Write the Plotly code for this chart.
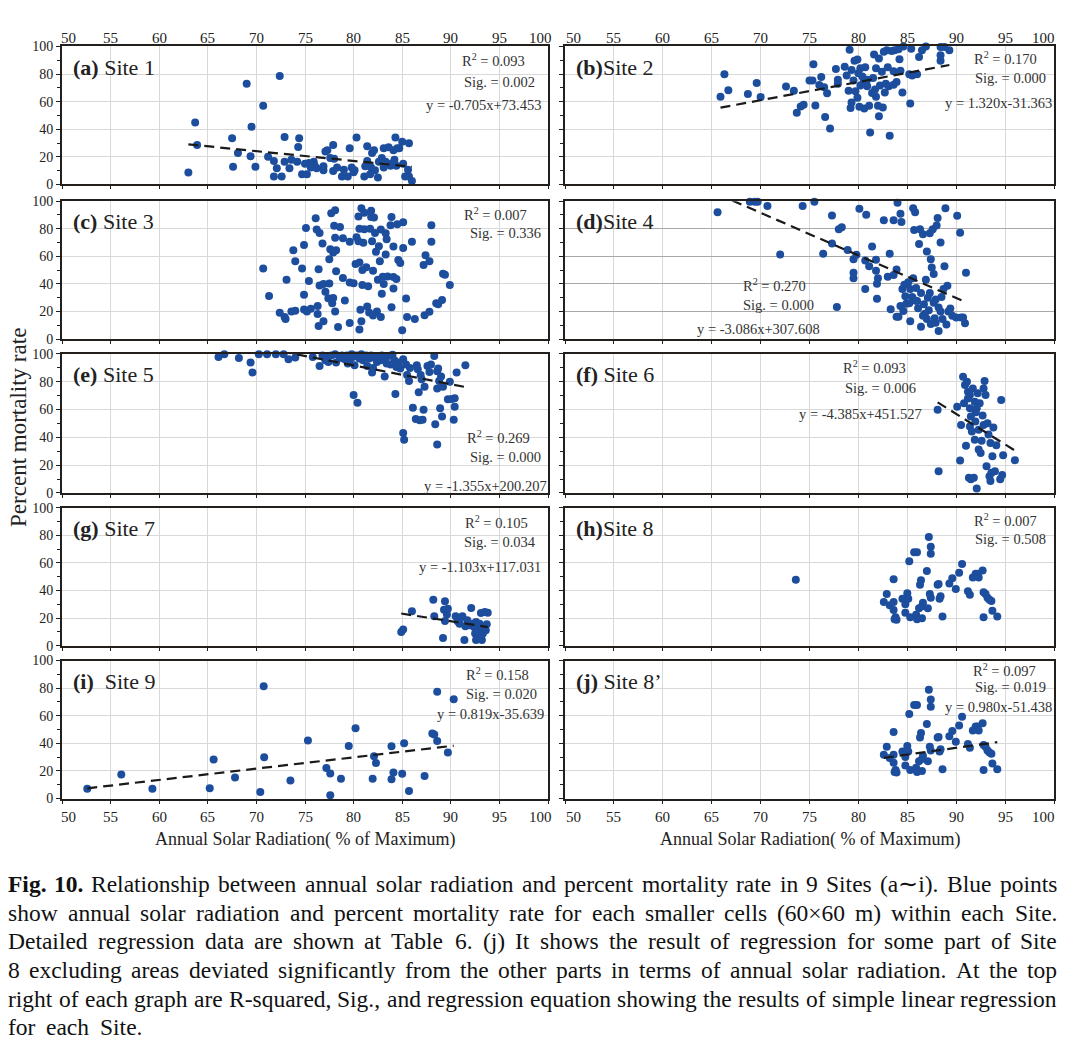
import plotly.graph_objects as go
import numpy as np

W, H = 1083, 1053

# ---------------- data ----------------
site1_x = [63.0, 63.7, 63.9, 67.5, 67.6, 68.1, 69.0, 69.4, 69.5, 69.9, 70.7, 71.2, 71.8, 71.8, 72.1, 72.4, 72.6, 72.9, 72.9,
           73.4, 73.6, 74.2, 74.3, 74.4, 74.7, 75.0, 75.2, 75.4, 75.6, 75.9, 76.0, 76.2, 76.9, 77.1, 76.9, 77.3, 77.6, 77.9,
           77.9, 78.0, 78.3, 78.8, 79.0, 79.4, 79.6, 79.8, 80.0, 80.1, 80.3, 81.1, 81.2, 81.4, 81.4, 81.7, 81.8, 81.9, 82.1,
           82.2, 82.5, 82.6, 82.9, 83.1, 83.1, 83.3, 83.6, 83.8, 83.9, 84.1, 84.2, 84.3, 84.4, 84.5, 84.7, 85.0, 85.1, 85.3,
           85.6, 85.7, 85.7, 86.0]
site1_y = [8.6, 44.9, 28.6, 33.4, 12.9, 22.7, 73.0, 20.5, 41.8, 12.9, 57.0, 20.0, 17.0, 5.7, 11.7, 78.5, 5.7, 16.5, 34.4,
           11.7, 17.9, 16.5, 27.2, 33.4, 7.4, 15.0, 7.4, 15.5, 12.2, 16.5, 13.6, 11.7, 10.3, 23.9, 13.1, 24.8, 19.1, 9.8,
           28.6, 18.6, 12.2, 5.7, 10.7, 5.7, 26.3, 12.2, 8.8, 10.3, 34.1, 5.7, 13.1, 17.0, 27.7, 7.4, 12.2, 22.7, 24.8,
           10.3, 5.0, 16.5, 19.1, 26.3, 12.2, 16.5, 27.0, 13.6, 15.0, 24.8, 17.9, 34.1, 13.6, 26.3, 26.3, 31.0, 15.0, 5.7,
           10.7, 29.8, 5.7, 2.4]

site2_x = [65.9, 66.3, 66.7, 68.7, 69.6, 70.0, 72.6, 73.4, 73.7, 74.1, 74.4, 75.0, 75.3, 75.4, 75.6, 76.0, 76.2, 76.5, 76.6,
           76.8, 77.1, 77.7, 77.9, 77.9, 78.6, 78.8, 79.0, 79.1, 79.2, 79.3, 79.3, 79.5, 79.6, 79.7, 79.9, 79.9, 80.0, 80.1,
           80.2, 80.2, 80.4, 80.5, 80.6, 80.7, 80.9, 80.9, 81.1, 81.2, 81.4, 81.5, 81.6, 81.7, 81.8, 81.8, 82.0, 82.1, 82.1,
           82.2, 82.4, 82.5, 82.6, 82.7, 82.8, 82.9, 83.0, 83.1, 83.2, 83.4, 83.6, 83.6, 83.7, 83.9, 84.1, 84.2, 84.3, 84.5,
           84.6, 85.2, 85.3, 85.4, 85.5, 86.0, 86.2, 86.5, 86.9, 88.4, 88.4, 88.4, 88.8, 89.3]
site2_y = [63.5, 79.9, 68.3, 65.5, 73.5, 63.4, 71.0, 67.8, 52.0, 56.5, 57.7, 75.4, 75.4, 87.0, 57.2, 72.0, 77.8, 70.4, 48.9,
           66.0, 40.6, 83.7, 75.9, 73.0, 85.3, 79.0, 67.8, 97.6, 55.3, 83.0, 59.3, 75.4, 89.6, 67.6, 90.5, 62.9, 80.6, 56.3,
           71.6, 84.2, 78.3, 73.5, 55.0, 84.9, 75.9, 71.2, 57.0, 37.6, 66.2, 77.1, 94.1, 68.8, 84.2, 63.6, 57.0, 49.4, 91.3,
           71.6, 81.6, 55.8, 96.1, 66.7, 73.0, 97.2, 84.9, 71.2, 35.2, 96.7, 72.3, 82.0, 97.2, 74.2, 97.9, 90.8, 82.3, 66.7,
           100.0, 79.9, 58.6, 98.3, 79.0, 79.9, 92.4, 97.2, 100.0, 89.6, 99.5, 93.6, 99.5, 97.2]

site3_x = [70.7, 71.3, 72.4, 72.9, 73.0, 73.1, 73.6, 73.8, 74.0, 74.0, 74.7, 74.9, 74.9, 74.9, 75.1, 75.2, 75.4, 75.6, 76.1,
           76.2, 76.3, 76.3, 76.4, 76.4, 76.5, 76.5, 76.8, 76.9, 76.9, 77.1, 77.4, 77.5, 77.5, 77.6, 77.7, 77.8, 77.9, 77.9,
           78.0, 78.1, 78.1, 78.1, 78.2, 78.2, 78.4, 78.6, 78.9, 78.9, 79.1, 79.6, 79.6, 79.6, 80.0, 80.2, 80.3, 80.5, 80.5,
           80.6, 80.6, 80.6, 80.7, 80.8, 80.8, 80.9, 80.9, 81.0, 81.1, 81.1, 81.3, 81.4, 81.5, 81.6, 81.7, 81.8, 81.8, 81.9,
           82.0, 82.0, 82.1, 82.2, 82.3, 82.4, 82.5, 82.6, 82.7, 82.8, 82.8, 82.9, 83.0, 83.1, 83.3, 83.3, 83.4, 83.5, 83.8,
           83.9, 83.9, 84.1, 84.1, 84.1, 84.4, 84.5, 84.6, 84.8, 85.0, 85.1, 85.1, 85.4, 85.5, 86.0, 86.3, 87.2, 87.3, 87.4,
           87.8, 87.8, 88.0, 88.0, 88.5, 88.7, 89.1, 89.2, 89.4, 89.9]
site3_y = [51.2, 31.3, 19.2, 16.1, 14.7, 43.1, 20.1, 64.5, 56.4, 20.6, 51.2, 68.2, 32.2, 21.6, 80.6, 20.1, 42.2, 22.0, 87.7,
           79.4, 24.0, 18.2, 9.5, 50.7, 38.9, 77.0, 69.4, 40.0, 13.0, 34.4, 29.6, 40.3, 58.0, 65.2, 91.2, 26.0, 29.8, 62.8,
           82.2, 93.4, 20.1, 73.5, 64.5, 49.3, 8.8, 81.3, 73.2, 44.3, 28.0, 70.6, 11.8, 41.0, 40.6, 54.5, 73.9, 70.9, 88.9,
           55.5, 7.1, 80.1, 21.3, 13.0, 94.8, 39.3, 50.2, 69.9, 79.6, 91.7, 52.1, 23.7, 38.4, 19.4, 80.1, 93.1, 88.6, 70.9,
           49.6, 17.2, 88.2, 77.0, 63.3, 20.1, 43.1, 67.3, 56.4, 16.1, 79.4, 32.9, 45.3, 40.0, 61.4, 76.8, 72.5, 45.5, 82.5,
           88.6, 23.2, 36.7, 45.1, 67.1, 43.6, 83.3, 57.3, 55.2, 6.4, 84.8, 66.1, 29.4, 16.1, 70.6, 14.7, 53.8, 17.3, 60.9,
           19.9, 56.4, 82.5, 70.6, 26.0, 25.4, 28.4, 47.4, 46.7, 39.3]

site4_x = [65.6, 68.9, 69.4, 69.7, 70.7, 72.0, 74.3, 75.5, 76.4, 77.3, 77.3, 77.8, 78.0, 78.3, 78.9, 79.5, 79.5, 79.5, 79.8,
           80.1, 80.7, 80.7, 80.8, 81.1, 81.4, 81.8, 81.8, 81.9, 81.9, 82.0, 82.6, 83.0, 83.2, 83.3, 83.6, 83.6, 83.9, 83.9,
           84.0, 84.1, 84.3, 84.3, 84.4, 84.5, 84.7, 84.8, 84.9, 85.1, 85.3, 85.3, 85.5, 85.6, 85.6, 85.7, 85.8, 85.9, 86.0,
           86.1, 86.2, 86.3, 86.4, 86.6, 86.6, 86.7, 86.9, 87.0, 87.0, 87.1, 87.2, 87.3, 87.3, 87.4, 87.4, 87.5, 87.6, 87.7,
           87.7, 87.8, 87.9, 88.0, 88.1, 88.2, 88.2, 88.4, 88.4, 88.6, 88.7, 88.8, 88.9, 89.0, 89.1, 89.2, 89.4, 89.6, 90.0,
           90.1, 90.4, 90.5, 90.7, 90.9, 91.0, 84.6, 85.8, 86.8, 87.9, 88.5, 86.4, 85.2]
site4_y = [91.9, 99.6, 99.6, 99.6, 96.6, 61.4, 96.6, 99.6, 61.9, 89.7, 69.4, 23.4, 79.6, 81.2, 64.7, 57.9, 48.2, 44.2, 61.2,
           94.5, 57.1, 36.4, 90.2, 52.9, 67.1, 57.6, 49.6, 40.1, 29.3, 44.2, 86.2, 45.3, 61.9, 21.7, 86.2, 46.5, 50.5, 16.3,
           98.9, 16.3, 24.1, 90.9, 85.0, 36.4, 39.4, 31.2, 25.7, 41.3, 13.0, 36.4, 30.5, 44.2, 94.9, 79.1, 91.9, 37.1, 27.6,
           22.4, 68.9, 79.6, 33.5, 17.0, 76.0, 25.3, 43.0, 14.6, 63.5, 30.0, 21.0, 76.7, 33.5, 57.9, 11.1, 51.9, 79.6, 47.2,
           26.4, 15.1, 28.8, 82.4, 87.8, 22.9, 5.9, 20.1, 70.1, 14.6, 36.4, 52.9, 94.9, 10.6, 38.7, 20.1, 22.2, 17.0, 15.8,
           89.5, 77.2, 15.8, 15.8, 11.6, 48.2, 20.5, 28.0, 18.5, 12.0, 30.5, 9.0, 26.0]

site5_x = [66.1, 66.7, 68.2, 69.4, 69.6, 70.25, 71.1, 72.0, 72.8, 73.3, 74.0, 75.8, 76.5, 76.8, 77.1, 77.2, 77.4, 77.7, 78.1,
           78.2, 78.6, 78.8, 79.1, 79.3, 79.4, 79.6, 79.8, 79.9, 80.0, 80.1, 80.3, 80.4, 80.6, 80.8, 80.96, 81.1, 81.3, 81.4,
           81.6, 81.8, 81.9, 82.0, 82.2, 82.4, 82.6, 82.8, 82.9, 83.1, 83.2, 83.4, 83.6, 83.8, 84.0, 84.2, 84.3, 84.4, 84.6,
           84.8, 85.1, 85.1, 85.2, 85.4, 85.5, 85.7, 85.8, 86.1, 86.4, 86.5, 86.6, 86.7, 86.8, 86.9, 87.0, 87.1, 87.2, 87.3,
           87.6, 87.8, 87.96, 88.3, 88.4, 88.6, 88.6, 88.6, 88.7, 88.8, 88.9, 89.0, 89.1, 89.2, 89.7, 89.9, 90.1, 90.3, 90.4,
           90.4, 90.6, 91.5]
site5_y = [97.9, 99.8, 97.1, 93.8, 86.7, 99.8, 99.8, 99.8, 99.8, 96.2, 97.4, 97.9, 91.4, 99.0, 95.5, 97.9, 94.3, 99.0, 99.8,
           93.8, 97.1, 99.0, 96.2, 99.0, 93.1, 95.5, 99.8, 97.9, 70.5, 91.9, 99.0, 65.0, 96.7, 99.8, 95.5, 97.9, 99.0, 91.4,
           96.7, 99.0, 86.7, 90.0, 97.1, 94.3, 98.6, 95.5, 99.0, 97.1, 83.8, 93.1, 98.6, 92.4, 99.5, 95.5, 71.2, 90.7, 93.8,
           89.5, 96.2, 43.1, 38.3, 92.4, 84.8, 80.5, 90.0, 61.4, 53.3, 91.9, 89.0, 72.4, 52.4, 84.8, 81.9, 52.6, 59.8, 76.4,
           91.4, 87.1, 92.4, 98.6, 49.5, 87.6, 34.8, 75.2, 89.5, 80.5, 61.0, 83.8, 55.0, 76.4, 67.4, 80.0, 67.6, 52.6, 62.1,
           68.1, 86.7, 91.9]

site6_x = [88.1, 88.2, 90.1, 90.4, 90.5, 90.7, 90.8, 90.9, 91.0, 91.1, 91.2, 91.3, 91.4, 91.4, 91.4, 91.5, 91.5, 91.6, 91.7,
           91.8, 91.9, 91.9, 91.96, 92.1, 92.1, 92.2, 92.3, 92.3, 92.4, 92.5, 92.6, 92.7, 92.8, 92.8, 92.9, 93.0, 93.1, 93.2,
           93.4, 93.5, 93.5, 93.6, 93.7, 93.8, 93.96, 94.1, 94.5, 94.6, 94.7, 94.8, 96.0, 91.2, 92.0, 93.3]
site6_y = [59.8, 15.7, 62.1, 23.3, 49.0, 83.6, 64.5, 77.6, 34.0, 80.0, 72.9, 11.0, 47.9, 61.0, 70.5, 9.8, 55.0, 44.3, 75.2,
           11.0, 65.7, 38.3, 51.4, 3.3, 61.0, 71.7, 31.2, 45.5, 64.5, 28.8, 37.6, 55.7, 75.2, 49.0, 80.5, 70.5, 19.3, 50.2,
           12.1, 8.6, 36.0, 14.5, 26.4, 47.1, 15.7, 34.3, 9.8, 66.9, 12.9, 27.1, 23.6, 68.0, 58.0, 42.0]

site7_x = [84.9, 85.1, 86.0, 88.2, 88.3, 89.2, 89.3, 89.4, 89.4, 89.6, 89.7, 90.5, 90.7, 90.9, 91.0, 91.2, 91.4, 91.5, 91.7,
           91.96, 92.1, 92.2, 92.4, 92.5, 92.6, 92.6, 92.7, 92.8, 92.8, 92.96, 93.1, 93.2, 93.3, 93.4, 93.5, 93.6, 93.7, 93.8]
site7_y = [10.0, 11.7, 25.1, 33.3, 21.3, 5.7, 26.1, 32.3, 17.9, 22.7, 26.8, 21.3, 17.7, 16.0, 20.3, 21.3, 4.1, 14.1, 18.4,
           14.8, 27.3, 16.0, 13.6, 8.9, 17.2, 4.1, 11.2, 14.1, 6.5, 16.0, 23.7, 4.1, 8.9, 13.6, 24.4, 11.2, 15.6, 23.9]

site8_x = [73.6, 82.6, 82.9, 83.2, 83.6, 83.6, 83.6, 83.7, 83.8, 83.9, 84.5, 84.8, 84.8, 85.0, 85.1, 85.2, 85.3, 85.7, 85.9,
           85.99, 86.0, 86.2, 86.3, 86.4, 86.5, 86.5, 86.6, 87.0, 87.1, 87.2, 87.3, 87.4, 87.4, 87.4, 88.1, 88.2, 88.3, 88.4,
           88.6, 89.3, 89.6, 89.96, 90.3, 90.6, 91.2, 91.4, 91.7, 91.99, 92.2, 92.3, 92.7, 92.8, 92.8, 93.0, 93.2, 93.4, 93.6,
           93.7, 94.2]
site8_y = [47.8, 31.8, 37.6, 29.4, 48.2, 31.8, 25.9, 19.3, 20.7, 18.8, 34.1, 30.1, 24.0, 38.1, 34.1, 61.2, 20.7, 67.8, 22.4,
           67.8, 19.3, 27.1, 44.2, 47.5, 28.7, 20.0, 31.1, 54.1, 27.1, 78.8, 37.6, 34.8, 71.8, 66.6, 44.2, 44.7, 34.1, 35.8,
           21.2, 45.2, 48.9, 41.2, 52.9, 59.3, 39.5, 36.9, 49.4, 52.2, 52.2, 49.4, 54.6, 20.7, 38.8, 37.6, 34.8, 33.4, 32.5,
           25.4, 21.2]

site9_x = [52.6, 56.1, 59.3, 65.2, 65.6, 67.8, 70.4, 70.75, 70.8, 73.5, 75.3, 77.2, 77.6, 77.6, 78.7, 79.5, 80.2, 81.96, 82.1,
           82.3, 83.9, 83.9, 84.1, 85.0, 85.2, 85.7, 87.3, 88.1, 88.3, 88.6, 88.6, 89.7, 90.3]
site9_y = [7.1, 17.4, 7.1, 7.4, 28.3, 15.2, 4.8, 81.4, 30.0, 13.1, 42.1, 22.1, 18.1, 2.4, 14.3, 38.1, 51.0, 14.3, 30.7,
           25.7, 37.9, 14.0, 18.8, 17.9, 40.0, 5.5, 16.4, 47.1, 46.4, 77.4, 41.7, 33.3, 71.9]

# Site 8' : Site 8 without the cell deviating in solar radiation
site8p_x = [x for x in site8_x if x > 80]
site8p_y = [y for x, y in zip(site8_x, site8_y) if x > 80]

panel_x = [site1_x, site2_x, site3_x, site4_x, site5_x, site6_x, site7_x, site8_x, site9_x, site8p_x]
panel_y = [site1_y, site2_y, site3_y, site4_y, site5_y, site6_y, site7_y, site8_y, site9_y, site8p_y]
panel_letter = ["a", "b", "c", "d", "e", "f", "g", "h", "i", "j"]
panel_site = [" Site 1", "Site 2", " Site 3", "Site 4", " Site 5", " Site 6", " Site 7", "Site 8", "\u00a0 Site 9", " Site 8’"]
r2_vals = ["0.093", "0.170", "0.007", "0.270", "0.269", "0.093", "0.105", "0.007", "0.158", "0.097"]
sig_vals = ["0.002", "0.000", "0.336", "0.000", "0.000", "0.006", "0.034", "0.508", "0.020", "0.019"]
slopes = [-0.705, 1.320, None, -3.086, -1.355, -4.385, -1.103, None, 0.819, 0.980]
intercepts = [73.453, -31.363, None, 307.608, 200.207, 451.527, 117.031, None, -35.639, -51.438]

x_ticks = [50, 55, 60, 65, 70, 75, 80, 85, 90, 95, 100]
y_ticks = [0, 20, 40, 60, 80, 100]

caption_lines = [
    "<b>Fig. 10.</b> Relationship between annual solar radiation and percent mortality rate in 9 Sites (a∼i). Blue points",
    "show annual solar radiation and percent mortality rate for each smaller cells (60×60 m) within each Site.",
    "Detailed regression data are shown at Table 6. (j) It shows the result of regression for some part of Site",
    "8 excluding areas deviated significantly from the other parts in terms of annual solar radiation. At the top",
    "right of each graph are R-squared, Sig., and regression equation showing the results of simple linear regression",
    "for each Site.",
]

# ---------------- layout geometry (pixels) ----------------
col_l = [62, 565]
col_r = [548, 1054]
row_t = [40, 197, 352, 508, 663]
row_b = [180, 337, 493, 648, 803]

stat_pos = [
    [(493, 54), (499, 76), (483, 99)],
    [(1005, 52), (1010, 72), (998, 97)],
    [(495, 210), (505, 229)],
    [(774, 282), (778, 302), (758, 327)],
    [(498, 436), (505, 457), (485, 486)],
    [(875, 365), (880, 387), (860, 413)],
    [(496, 522), (500, 543), (480, 568)],
    [(1005, 520), (1010, 540)],
    [(497, 677), (501, 697), (490, 717)],
    [(1004, 673), (1010, 690), (998, 710)],
]

FONT = "Liberation Serif, Times New Roman, serif"
DOT = "#1d4e9e"
FRAME = "#231f1c"
GRID = "#d9d9d9"
TXT = "#222222"


def px(x):
    return x / W


def py(y):
    return 1 - y / H


# approximate advance widths (1/1000 em) for justifying the caption
_TW = {' ': 250, '(': 333, ')': 333, ',': 250, '-': 333, '.': 250, '0': 500, '1': 500, '2': 500, '3': 500, '4': 500,
       '5': 500, '6': 500, '7': 500, '8': 500, '9': 500, '×': 564, '∼': 838,
       'A': 722, 'B': 667, 'C': 667, 'D': 722, 'E': 611, 'F': 556, 'G': 722, 'H': 722, 'I': 333, 'J': 389, 'K': 722,
       'L': 611, 'M': 889, 'N': 722, 'O': 722, 'P': 556, 'Q': 722, 'R': 667, 'S': 556, 'T': 611, 'U': 722, 'V': 722,
       'W': 944, 'X': 722, 'Y': 722, 'Z': 611,
       'a': 444, 'b': 500, 'c': 444, 'd': 500, 'e': 444, 'f': 333, 'g': 500, 'h': 500, 'i': 278, 'j': 278, 'k': 500,
       'l': 278, 'm': 778, 'n': 500, 'o': 500, 'p': 500, 'q': 500, 'r': 333, 's': 389, 't': 278, 'u': 500, 'v': 500,
       'w': 722, 'x': 500, 'y': 500, 'z': 444}


def word_width(w, size):
    plain = w.replace("<b>", "").replace("</b>", "")
    return sum(_TW.get(c, 500) for c in plain) * size / 1000.0


fig = go.Figure()
annotations = []
layout = dict(
    width=W, height=H, margin=dict(l=0, r=0, t=0, b=0),
    paper_bgcolor="white", plot_bgcolor="white", showlegend=False,
    font=dict(family=FONT, color=TXT),
)

for i in range(10):
    row, col = i // 2, i % 2
    n = i + 1
    xa = "x" if n == 1 else f"x{n}"
    ya = "y" if n == 1 else f"y{n}"
    xs = np.array(panel_x[i])
    ys = np.array(panel_y[i])
    fig.add_trace(go.Scatter(x=xs, y=ys, mode="markers", xaxis=xa, yaxis=ya,
                             marker=dict(color=DOT, size=8, line=dict(width=0)),
                             cliponaxis=False, hoverinfo="x+y"))
    if slopes[i] is not None:
        lx = np.array([xs.min(), xs.max()])
        ly = slopes[i] * lx + intercepts[i]
        fig.add_trace(go.Scatter(x=lx, y=ly, mode="lines", xaxis=xa, yaxis=ya,
                                 line=dict(color="#1a1a1a", width=2.2, dash="10px,6px"),
                                 hoverinfo="skip"))

    layout["xaxis" if n == 1 else f"xaxis{n}"] = dict(
        domain=[px(col_l[col]), px(col_r[col])], anchor=ya,
        range=[50, 100], tickvals=x_ticks, showgrid=True, gridcolor=GRID, gridwidth=1,
        zeroline=False, showline=True, mirror=True, linecolor=FRAME, linewidth=2,
        ticks="outside", ticklen=3, tickcolor=FRAME, showticklabels=False,
    )
    layout["yaxis" if n == 1 else f"yaxis{n}"] = dict(
        domain=[py(row_b[row]), py(row_t[row])], anchor=xa,
        range=[0, 100], tickvals=y_ticks, showgrid=True,
        gridcolor="#a8a8a8" if i == 3 else GRID, gridwidth=1,
        zeroline=False, showline=True, mirror=True, linecolor=FRAME, linewidth=2,
        ticks="outside", ticklen=4, tickcolor=FRAME,
        minor=dict(tickvals=[10, 30, 50, 70, 90], ticks="outside", ticklen=3, tickcolor=FRAME, showgrid=False),
        showticklabels=(col == 0),
        tickfont=dict(family=FONT, size=14, color=TXT),
    )

    # x tick labels: on top of the first row and below the last row (end labels kept inside the frame)
    if row in (0, 4):
        lab_y = 31 if row == 0 else 822
        for v in x_ticks:
            shift = 0
            if v == x_ticks[0]:
                shift = 6 if col == 0 else 8
            elif v == x_ticks[-1]:
                shift = -8 if col == 0 else -11
            annotations.append(dict(x=v, xref=xa, y=py(lab_y), yref="paper", text=str(v), showarrow=False,
                                    xanchor="center", yanchor="middle", xshift=shift,
                                    font=dict(family=FONT, size=15, color=TXT)))

    # panel label
    annotations.append(dict(
        x=px(col_l[col] + 9), y=py(row_t[row] + 21), xref="paper", yref="paper",
        xanchor="left", yanchor="middle", showarrow=False,
        text=f"<b>({panel_letter[i]})</b>{panel_site[i]}",
        font=dict(family=FONT, size=22, color=TXT),
    ))
    # regression statistics
    lines = [f"R<sup>2</sup> = {r2_vals[i]}", f"Sig. = {sig_vals[i]}"]
    if slopes[i] is not None:
        lines.append(f"y = {slopes[i]:.3f}x{intercepts[i]:+.3f}")
    for (sx, sy), t in zip(stat_pos[i], lines):
        annotations.append(dict(
            x=px(sx), y=py(sy), xref="paper", yref="paper",
            xanchor="center", yanchor="middle", showarrow=False, text=t,
            font=dict(family=FONT, size=14.5, color="#333333"),
        ))

# axis titles
annotations.append(dict(x=px(19), y=py(427), xref="paper", yref="paper", showarrow=False,
                        text="Percent mortality rate", textangle=-90,
                        xanchor="center", yanchor="middle",
                        font=dict(family=FONT, size=23, color=TXT)))
for c in range(2):
    annotations.append(dict(x=px((col_l[c] + col_r[c]) / 2), y=py(845), xref="paper", yref="paper",
                            showarrow=False, text="Annual Solar Radiation( % of Maximum)",
                            xanchor="center", yanchor="middle",
                            font=dict(family=FONT, size=18, color=TXT)))

# caption, justified word by word between the page margins
CAP_L, CAP_R, CAP_SIZE = 8, 1057, 23.5
cap_right = [CAP_R, CAP_R, CAP_R, CAP_R, CAP_R, 142]
cap_y = [890, 919, 948, 977, 1006, 1035]
for li, (t, yy) in enumerate(zip(caption_lines, cap_y)):
    font = dict(family=FONT, size=CAP_SIZE, color="#111111")
    words = t.replace("<b>Fig. 10.</b>", "<b>Fig.</b> <b>10.</b>").split(" ")
    widths = [word_width(w, CAP_SIZE) for w in words]
    right = cap_right[li]
    gap = (right - CAP_L - sum(widths)) / (len(words) - 1)
    xcur = CAP_L
    for k, (w, ww) in enumerate(zip(words, widths)):
        if k == len(words) - 1:
            annotations.append(dict(x=px(right), y=py(yy), xref="paper", yref="paper", showarrow=False, text=w,
                                    xanchor="right", yanchor="middle", borderpad=0, borderwidth=0, font=font))
        else:
            annotations.append(dict(x=px(xcur), y=py(yy), xref="paper", yref="paper", showarrow=False, text=w,
                                    xanchor="left", yanchor="middle", borderpad=0, borderwidth=0, font=font))
        xcur += ww + gap

layout["annotations"] = annotations
fig.update_layout(**layout)
fig.write_html("out.html", config={"displayModeBar": False},
               post_script="document.body.style.margin='0';document.body.style.overflow='hidden';")
